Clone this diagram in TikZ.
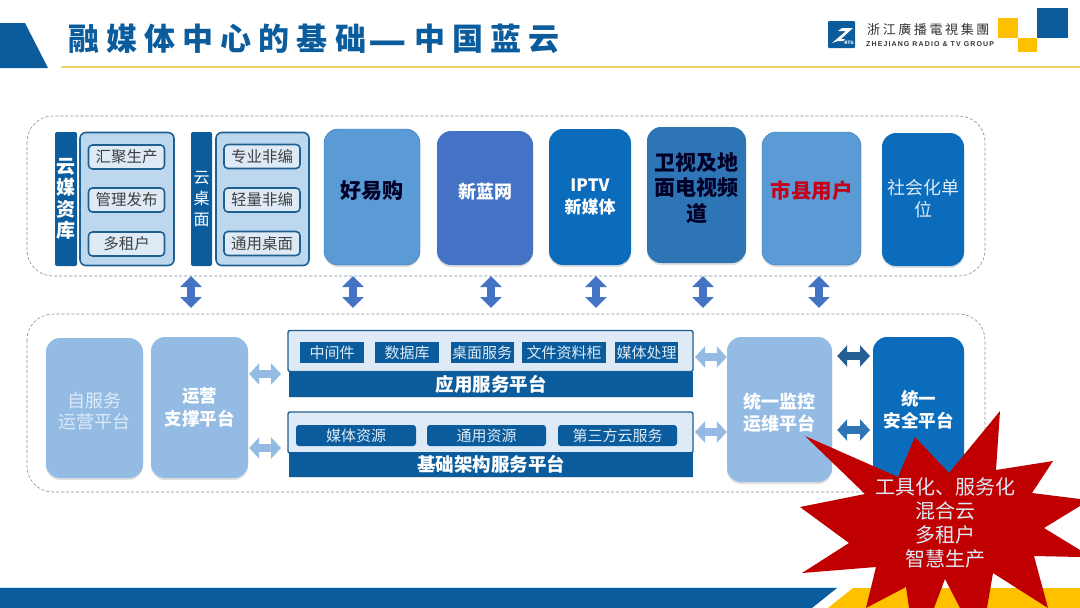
\documentclass[tikz,border=0pt]{standalone}
\usepackage{fontspec}
\usepackage{xcolor}
\usetikzlibrary{arrows.meta,shadows}
\setmainfont{Noto Sans CJK SC}
\newfontfamily\titlefont[LetterSpace=23]{Noto Sans CJK SC}
\newfontfamily\logofont[LetterSpace=20]{Noto Sans CJK SC}
\newfontfamily\logolatin[LetterSpace=16]{Liberation Sans}
\definecolor{navy}{HTML}{0B5C9C}
\definecolor{midblue}{HTML}{0B6CBB}
\definecolor{steel}{HTML}{2E75B6}
\definecolor{sky}{HTML}{5B9BD5}
\definecolor{royal}{HTML}{4472C4}
\definecolor{pale}{HTML}{94BBE3}
\definecolor{panel}{HTML}{BDD7EE}
\definecolor{chip}{HTML}{DEEBF7}
\definecolor{edge}{HTML}{1F6091}
\definecolor{dash}{HTML}{7F8FA6}
\definecolor{gold}{HTML}{FFC000}
\definecolor{rule}{HTML}{F2D264}
\definecolor{burst}{HTML}{C00000}
\newcommand{\fs}[2]{\fontsize{#1}{#2}\selectfont}
\newcommand{\lifted}[2]{\raisebox{#1}[0pt][0pt]{\begin{tabular}{@{}c@{}}#2\end{tabular}}}

\begin{document}
\begin{tikzpicture}[
      x=1pt, y=-1pt,
      group/.style={
        draw=dash, densely dashed, line width=0.6pt, rounded corners=26pt
      },
      bar/.style={
        fill=navy, rounded corners=2pt, inner sep=0pt, text=white,
        align=center, minimum width=22pt, minimum height=134pt
      },
      sidepanel/.style={
        draw=edge, line width=1.6pt, fill=panel, rounded corners=6pt,
        inner sep=0pt, minimum height=133pt
      },
      item/.style={
        draw=edge, line width=1.6pt, fill=chip, rounded corners=4pt,
        inner sep=0pt, minimum width=76pt, minimum height=24pt,
        text=black!75, font=\fs{15.5}{18}
      },
      tile/.style={
        rounded corners=14pt, inner sep=0pt, align=center,
        drop shadow={shadow xshift=0pt, shadow yshift=-2pt, opacity=.25}
      },
      platform/.style={
        draw=edge, line width=1.4pt, fill=chip, inner sep=0pt,
        rounded corners=2pt, minimum width=405pt, minimum height=41pt
      },
      platbar/.style={
        fill=navy, inner sep=0pt, text=white, minimum width=404pt,
        minimum height=25pt, font=\fs{18.5}{20}\bfseries,
        drop shadow={shadow xshift=0pt, shadow yshift=-1pt, opacity=.25}
      },
      svc/.style={
        fill=navy, inner sep=0pt, minimum height=21pt,
        text=chip, font=\fs{15}{18}
      },
      vlink/.style={
        draw=royal, line width=8pt,
        {Triangle[length=11pt,width=21pt]}-{Triangle[length=11pt,width=21pt]}
      },
      hlink/.style={
        line width=8pt,
        {Triangle[length=10pt,width=21pt]}-{Triangle[length=10pt,width=21pt]}
      }
    ]
      \useasboundingbox (0,0) rectangle (1080,608);

      \fill[navy] (0,23)--(25,23)--(48,68)--(0,68)--cycle;
      \draw[rule, line width=2pt] (61,67)--(1080,67);
      \node[text=navy, font=\fs{31}{33}\titlefont\bfseries, anchor=west, inner sep=0pt] (title) at (68,40){融媒体中心的基础\kern2pt\raisebox{-5pt}{\fs{42}{33}—}\kern8pt 中国蓝云};

      \node[fill=navy, rounded corners=1pt, minimum width=27pt, minimum height=27pt, inner sep=0pt] (logomark) at (841.5,34.5){};
      \fill[white] (832,43)--(846,31)--(838,31)--(842,28)--(853,28)--(841,39)--(845,39)--(843,41)--(838,41)--cycle;
      \node[text=white, font=\fs{4.5}{5}\bfseries, inner sep=0pt] (logortg) at (849,43){RTG};
      \node[text=black!80, font=\fs{13}{16}\logofont, anchor=west, inner sep=0pt] (logocn) at (867,30){浙江廣播電視集團};
      \node[text=black!80, font=\fs{7}{8}\logolatin\bfseries, anchor=west, inner sep=0pt] (logoen) at (866,44){ZHEJIANG RADIO \& TV GROUP};
      \fill[gold] (998,18) rectangle (1018,38);
      \fill[gold] (1018,38) rectangle (1037,52);
      \fill[navy] (1037,8) rectangle (1068,38);

      \fill[cyan!25] (0,587) rectangle (837,588);
      \fill[navy] (0,588)--(837,588)--(812,608)--(0,608)--cycle;
      \fill[gold] (853,588)--(1080,588)--(1080,608)--(828,608)--cycle;

      \draw[group] (27,116) rectangle (985,276);
      \draw[group] (27,314) rectangle (985,492);

      \node[bar, font=\fs{19}{21.5}\bfseries] (cloudmedia) at (66,199){云\\媒\\资\\库};
      \node[sidepanel, minimum width=94pt] (mediapanel) at (127,199){};
      \node[item] (collect) at (126.5,157){汇聚生产};
      \node[item] (publish) at (126.5,200){管理发布};
      \node[item] (tenant) at (126.5,244){多租户};

      \node[bar, font=\fs{16}{21}, minimum width=21pt] (clouddesk) at (201.5,199){云\\桌\\面};
      \node[sidepanel, minimum width=93pt] (deskpanel) at (262.5,199){};
      \node[item] (proedit) at (262,156.5){专业非编};
      \node[item] (liteedit) at (262,200){轻量非编};
      \node[item] (desktop) at (262,243.5){通用桌面};

      \node[tile, fill=sky, draw=steel, text=black!85!blue, font=\fs{21}{24}\bfseries, minimum width=96pt, minimum height=136pt] (haoyigou) at (372,197){\lifted{-1pt}{好易购}};
      \node[tile, fill=royal, text=white, font=\fs{18}{22}\bfseries, minimum width=96pt, minimum height=134pt] (xinlan) at (485,198){\lifted{-0.5pt}{新蓝网}};
      \node[tile, fill=midblue, text=white, font=\fs{17}{22}\bfseries, minimum width=82pt, minimum height=136pt] (iptv) at (590,197){\lifted{-5.5pt}{IPTV\\新媒体}};
      \node[tile, fill=steel, text=black!85!blue, font=\fs{21}{25}\bfseries, minimum width=99pt, minimum height=136pt] (satellite) at (696.5,195){\lifted{-1pt}{卫视及地\\面电视频\\道}};
      \node[tile, fill=sky, draw=steel, text=burst!90!magenta, font=\fs{20.5}{22}\bfseries, minimum width=99pt, minimum height=133pt] (county) at (811.5,198.5){\lifted{0.5pt}{市县用户}};
      \node[tile, fill=midblue, text=chip, font=\fs{18}{21}, minimum width=82pt, minimum height=133pt] (social) at (923,199.5){\lifted{-6pt}{社会化单\\位}};

      \foreach \xpos/\nm in {191/a,353/b,491/c,596/d,703/e,819/f} {
        \coordinate (up\nm) at (\xpos,276);
        \coordinate (down\nm) at (\xpos,308);
        \draw[vlink] (up\nm)--(down\nm);
      }

      \node[tile, fill=pale, text=chip, font=\fs{18}{21.5}, minimum width=97pt, minimum height=140pt] (selfservice) at (94.5,408){\lifted{-10pt}{自服务\\运营平台}};
      \node[tile, fill=pale, text=white, font=\fs{17.5}{23}\bfseries, minimum width=97pt, minimum height=141pt] (support) at (199.5,407.5){运营\\支撑平台};

      \node[platform] (apppanel) at (490.5,351){};
      \node[platbar] (appbar) at (491,384.5){应用服务平台};
      \node[svc, minimum width=64pt] (middleware) at (332,352.5){中间件};
      \node[svc, minimum width=64pt] (database) at (407,352.5){数据库};
      \node[svc, minimum width=63pt] (deskservice) at (482,352.5){桌面服务};
      \node[svc, minimum width=84pt] (filecabinet) at (564,352.5){文件资料柜};
      \node[svc, minimum width=63pt] (mediaproc) at (646.5,352.5){媒体处理};

      \node[platform] (basepanel) at (490.5,432.5){};
      \node[platbar] (basebar) at (491,464.5){基础架构服务平台};
      \node[svc, rounded corners=3pt, minimum width=120pt] (mediares) at (356,435.5){媒体资源};
      \node[svc, rounded corners=3pt, minimum width=119pt] (commonres) at (486.5,435.5){通用资源};
      \node[svc, rounded corners=3pt, minimum width=119pt] (thirdparty) at (617.5,435.5){第三方云服务};

      \node[tile, fill=pale, text=white, font=\fs{18}{22}\bfseries, minimum width=105pt, minimum height=145pt] (monitor) at (779.5,409.5){\lifted{-10pt}{统一监控\\运维平台}};
      \node[tile, fill=midblue, text=white, font=\fs{17.5}{22}\bfseries, minimum width=91pt, minimum height=145pt] (security) at (918.5,409.5){统一\\安全平台};

      \coordinate (appl) at (287,374);
      \coordinate (basel) at (287,448);
      \coordinate (appr) at (693,357);
      \coordinate (baser) at (693,432);
      \coordinate (secu) at (873,356);
      \coordinate (secl) at (873,430);
      \draw[hlink, draw=pale] ([xshift=1pt]support.east |- appl)--([xshift=-6pt]appl);
      \draw[hlink, draw=pale] ([xshift=1pt]support.east |- basel)--([xshift=-6pt]basel);
      \draw[hlink, draw=pale] ([xshift=2pt]appr)--(monitor.west |- appr);
      \draw[hlink, draw=pale] ([xshift=2pt]baser)--(monitor.west |- baser);
      \draw[hlink, draw=steel!80!black] ([xshift=5pt]monitor.east |- secu)--([xshift=-3pt]secu);
      \draw[hlink, draw=steel] ([xshift=5pt]monitor.east |- secl)--([xshift=-3pt]secl);

      \fill[burst] (805,436)--(898,477)--(915,437)--(949,473)--(1000,411)--(996,470)--(1053,461)--(1032,493)
        --(1080,499)--(1080,506)--(1044,528)--(1080,550)--(1080,557)--(1034,556)--(1048,608)--(993,573)
        --(987,608)--(960,608)--(945,579)--(934,608)--(909,608)--(906,587)--(866,608)--(876,567)
        --(802,573)--(849,543)--(800,507)--(865,494)--cycle;
      \node[text=chip, align=center, inner sep=0pt, font=\fs{20}{24}] (burstlabel) at (945,523){工具化、服务化\\混合云\\多租户\\智慧生产};
    \end{tikzpicture}
\end{document}
